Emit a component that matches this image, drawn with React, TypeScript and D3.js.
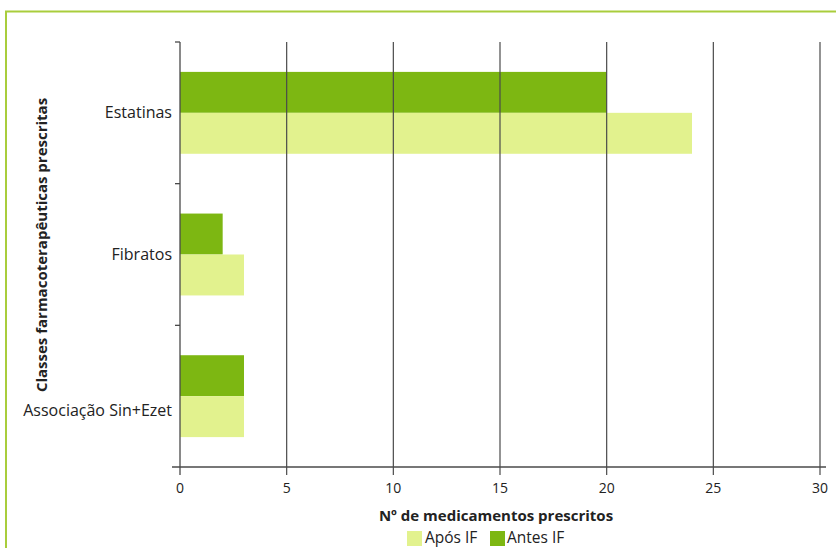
import React from "react";
import * as d3 from "d3";

// Prescribed drug classes and counts before / after the pharmaceutical intervention (IF)
const categories = ["Estatinas", "Fibratos", "Associação Sin+Ezet"];
const seriesNames = ["Antes IF", "Após IF"];
const antesIF = [20, 2, 3];
const aposIF = [24, 3, 3];
const xTicks = [0, 5, 10, 15, 20, 25, 30];

const W = 836;
const H = 548;
const margin = { left: 180, right: 16, top: 42, bottom: 81 };

const colors: Record<string, string> = {
  "Antes IF": "#7db712",
  "Após IF": "#e2f28e",
};
const frameColor = "#a9cd3c";
const gridColor = "#4a4a4a";
const font = "'Open Sans', 'Noto Sans', sans-serif";

export default function App() {
  const x = d3
    .scaleLinear()
    .domain([0, 30])
    .range([margin.left, W - margin.right]);
  const y = d3
    .scaleBand<string>()
    .domain(categories)
    .range([margin.top, H - margin.bottom])
    .paddingInner(0)
    .paddingOuter(0);
  const inner = d3
    .scaleBand<string>()
    .domain(seriesNames)
    .range([0, y.bandwidth()])
    .paddingInner(0)
    .paddingOuter(0.73);

  const values: Record<string, number[]> = {
    "Antes IF": antesIF,
    "Após IF": aposIF,
  };

  const y0 = margin.top;
  const y1 = H - margin.bottom;
  const bandEdges = [...categories.map((c) => y(c) as number), y1];
  // the long label sits a little lower than its band centre
  const labelDy = (c: string) => (c === "Associação Sin+Ezet" ? 14 : 0);

  return (
    <div style={{ position: "absolute", left: 0, top: 0 }}>
      <svg width={W} height={H} style={{ display: "block", background: "#fff" }}>
        {/* frame */}
        <path
          d={`M6,${H + 2} L6,11.5 L${W + 2},11.5`}
          fill="none"
          stroke={frameColor}
          strokeWidth={2}
        />

        {/* bars */}
        {categories.map((c, i) =>
          seriesNames.map((s) => (
            <rect
              key={c + s}
              x={x(0)}
              y={(y(c) as number) + (inner(s) as number)}
              width={x(values[s][i]) - x(0)}
              height={inner.bandwidth()}
              fill={colors[s]}
            />
          ))
        )}

        {/* vertical grid lines with ticks below the axis */}
        {xTicks.slice(1).map((t) => (
          <line
            key={"g" + t}
            x1={x(t)}
            x2={x(t)}
            y1={y0}
            y2={y1 + 8}
            stroke={gridColor}
            strokeWidth={1.2}
          />
        ))}

        {/* axes */}
        <line x1={x(0)} x2={x(0)} y1={y0} y2={y1 + 8} stroke={gridColor} strokeWidth={1.3} />
        <line x1={x(0) - 8} x2={x(30) + 6} y1={y1} y2={y1} stroke={gridColor} strokeWidth={1.3} />
        {bandEdges.slice(0, 3).map((e, i) => (
          <line
            key={"yt" + i}
            x1={x(0) - 5}
            x2={x(0)}
            y1={e}
            y2={e}
            stroke={gridColor}
            strokeWidth={1.3}
          />
        ))}

        {/* x tick labels */}
        {xTicks.map((t) => (
          <text
            key={"xl" + t}
            x={x(t)}
            y={y1 + 26}
            textAnchor="middle"
            fontFamily={font}
            fontSize={14}
            fill="#222"
          >
            {t}
          </text>
        ))}

        {/* category labels */}
        {categories.map((c) => (
          <text
            key={"cl" + c}
            x={x(0) - 8}
            y={(y(c) as number) + y.bandwidth() / 2 + labelDy(c)}
            dy="0.35em"
            textAnchor="end"
            fontFamily={font}
            fontSize={16}
            fill="#222"
          >
            {c}
          </text>
        ))}

        {/* axis titles */}
        <text
          x={496}
          y={521}
          textAnchor="middle"
          fontFamily={font}
          fontSize={15}
          fontWeight="bold"
          fill="#222"
        >
          Nº de medicamentos prescritos
        </text>
        <text
          transform={`translate(47,245) rotate(-90)`}
          textAnchor="middle"
          fontFamily={font}
          fontSize={15}
          fontWeight="bold"
          fill="#222"
        >
          Classes farmacoterapêuticas prescritas
        </text>

        {/* legend */}
        {[
          { name: "Após IF", sx: 407, tx: 425 },
          { name: "Antes IF", sx: 490, tx: 507 },
        ].map((l) => (
          <g key={l.name}>
            <rect x={l.sx} y={531} width={15} height={15} fill={colors[l.name]} />
            <text x={l.tx} y={543} fontFamily={font} fontSize={15.5} fill="#222">
              {l.name}
            </text>
          </g>
        ))}
      </svg>
    </div>
  );
}
